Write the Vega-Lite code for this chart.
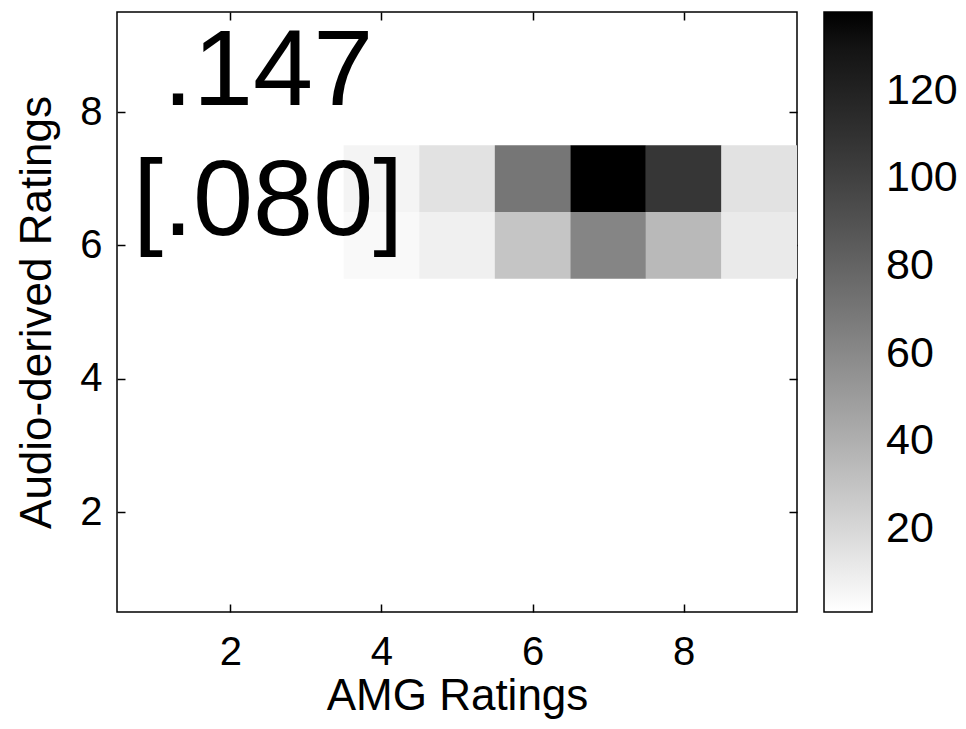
{
  "$schema": "https://vega.github.io/schema/vega-lite/v6.json",
  "autosize": "none",
  "width": 680,
  "height": 600,
  "padding": {"left": 117, "top": 12, "right": 169, "bottom": 117},
  "background": "white",
  "config": {
    "font": "Liberation Sans",
    "view": {"stroke": "black", "strokeWidth": 1.5},
    "axis": {"domain": false, "grid": false, "tickColor": "black", "tickWidth": 1.5, "labelColor": "black", "titleColor": "black", "labelFont": "Liberation Sans", "titleFont": "Liberation Sans", "titleFontWeight": "normal"}
  },
  "resolve": {"axis": {"x": "independent", "y": "independent"}},
  "layer": [
    {
      "data": {"values": [
        {"amg": 4, "audio": 7, "count": 6},
        {"amg": 5, "audio": 7, "count": 15},
        {"amg": 6, "audio": 7, "count": 70},
        {"amg": 7, "audio": 7, "count": 138},
        {"amg": 8, "audio": 7, "count": 107},
        {"amg": 9, "audio": 7, "count": 15},
        {"amg": 4, "audio": 6, "count": 4},
        {"amg": 5, "audio": 6, "count": 8},
        {"amg": 6, "audio": 6, "count": 29},
        {"amg": 7, "audio": 6, "count": 62},
        {"amg": 8, "audio": 6, "count": 35},
        {"amg": 9, "audio": 6, "count": 11}
      ]},
      "mark": {"type": "rect", "width": 75.56, "height": 66.67},
      "encoding": {
        "x": {"field": "amg", "type": "quantitative", "scale": {"domain": [0.5, 9.5], "nice": false, "zero": false},
          "axis": {"orient": "bottom", "values": [2, 4, 6, 8], "tickSize": -8, "labelPadding": 28, "labelFontSize": 40, "title": "AMG Ratings", "titleFontSize": 44, "titlePadding": 2}},
        "y": {"field": "audio", "type": "quantitative", "scale": {"domain": [0.5, 9.5], "nice": false, "zero": false},
          "axis": {"orient": "left", "values": [2, 4, 6, 8], "tickSize": -8, "labelPadding": 23, "labelFontSize": 40, "title": "Audio-derived Ratings", "titleFontSize": 44, "titlePadding": 20}},
        "color": {"field": "count", "type": "quantitative", "scale": {"type": "linear", "domain": [1, 138], "range": ["#ffffff", "#000000"]},
          "legend": {"orient": "none", "legendX": 707, "legendY": 0, "direction": "vertical", "title": null, "values": [20, 40, 60, 80, 100, 120], "gradientLength": 600, "gradientThickness": 48, "gradientStrokeColor": "black", "gradientStrokeWidth": 1.5, "labelFontSize": 43, "labelFont": "Liberation Sans", "labelColor": "black", "labelOffset": 14, "labelBaseline": "middle"}}
      }
    },
    {
      "data": {"values": [
        {"label": ".147", "tx": 2.5, "ty": 8.1},
        {"label": "[.080]", "tx": 2.5, "ty": 6.16}
      ]},
      "mark": {"type": "text", "fontSize": 108, "font": "Liberation Sans", "color": "black", "baseline": "alphabetic", "align": "center"},
      "encoding": {
        "x": {"field": "tx", "type": "quantitative", "scale": {"domain": [0.5, 9.5], "nice": false, "zero": false},
          "axis": {"orient": "top", "values": [2, 4, 6, 8], "tickSize": -8, "labels": false, "title": null}},
        "y": {"field": "ty", "type": "quantitative", "scale": {"domain": [0.5, 9.5], "nice": false, "zero": false},
          "axis": {"orient": "right", "values": [2, 4, 6, 8], "tickSize": -8, "labels": false, "title": null}},
        "text": {"field": "label", "type": "nominal"}
      }
    }
  ]
}
